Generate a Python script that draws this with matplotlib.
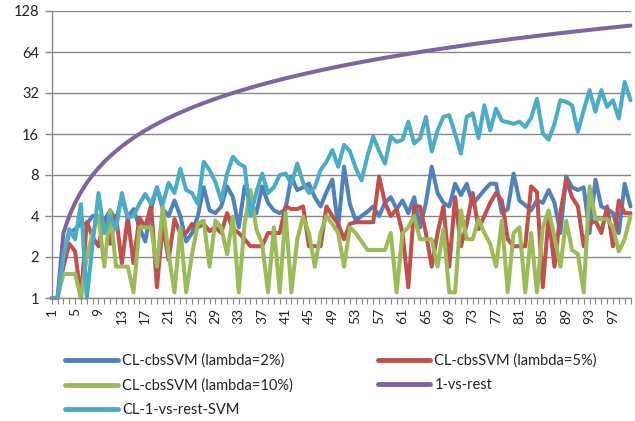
import matplotlib
matplotlib.use("Agg")
import matplotlib.pyplot as plt
from matplotlib.ticker import FixedLocator, NullLocator, NullFormatter

plt.rcParams['font.family'] = ['Lato', 'DejaVu Sans']

categories = list(range(1, 101))

lam2 = [1, 1, 2, 3, 3.2, 3.5, 3.5, 4, 4, 3.7,
        4.4, 3.7, 5.5, 3.9, 4.5, 3.3, 2.6, 4.5, 6.5, 4.5,
        4, 5.2, 4, 2.6, 3, 4, 6.5, 4.4, 4.2, 4.7,
        6.6, 5.5, 3.3, 6.6, 5, 4.2, 6.6, 5, 4.4, 4.2,
        4.5, 7.8, 6.2, 6.5, 6.9, 5.5, 4.7, 6, 7.4, 3.3,
        9.2, 4.9, 3.7, 4, 4.3, 4.7, 4, 5, 5.5, 4.5,
        5.2, 4.2, 5.5, 3.3, 5, 9.2, 5.9, 5, 4.7, 6.9,
        5.7, 6.9, 4.9, 5.5, 6.2, 6.9, 6.9, 4.2, 4.5, 8.2,
        5.2, 4.8, 4.4, 5.2, 5, 6.2, 5, 3, 7.8, 6.5,
        6.2, 6.5, 3, 7.4, 4.7, 4.5, 4.2, 3, 6.9, 4.7]

lam5 = [1, 1, 1.7, 2.5, 2.2, 1, 3.6, 2.8, 2.4, 3.8,
        2.5, 4, 1.8, 3.9, 1.8, 3.9, 3.3, 4.8, 1.2, 3.5,
        1.9, 3.8, 3, 3, 3.5, 3.3, 3.5, 3.1, 3.3, 3,
        4.2, 3.2, 3, 2.7, 2.4, 2.4, 2.4, 3, 3, 3,
        4.7, 4.5, 4.5, 4.7, 2.4, 2.4, 2.4, 4.7, 4, 3.5,
        2.7, 3.5, 3.6, 3.6, 3.6, 3.6, 7.8, 5, 4, 4.5,
        3, 1.2, 4.7, 4.7, 3, 1.7, 3, 4.7, 1.7, 5.5,
        2.4, 3.5, 5.9, 3.2, 4, 5, 5.9, 5.2, 2.7, 2.4,
        2.4, 2.4, 6.6, 6, 1.2, 4, 1.7, 4.2, 7.4, 5.5,
        4.7, 2.4, 3.5, 3.7, 3, 4.7, 2.4, 5.2, 4.2, 4.2]

lam10 = [1, 1, 1.5, 1.5, 1.5, 1, 2, 3, 4, 1.7,
         4.4, 1.7, 1.7, 1.7, 1.1, 3.3, 3.3, 3.3, 1.7, 4.7,
         2.1, 1.1, 3.3, 1.1, 2.1, 3.5, 3.7, 1.7, 3.7, 3.3,
         2.1, 3.95, 1.1, 3.5, 6.2, 3.2, 2.5, 1.1, 3.3, 1.1,
         4.2, 1.1, 2.7, 3.95, 3, 1.7, 3, 4, 3.5, 3,
         1.7, 3.3, 3, 2.6, 2.25, 2.25, 2.25, 2.25, 3, 1.1,
         3, 3.3, 4, 2.7, 2.7, 2.7, 1.7, 3.2, 1.1, 1.1,
         4.4, 2.7, 2.7, 3.8, 3, 2.5, 1.7, 3.7, 1.1, 3,
         3.3, 1.1, 3, 1.1, 3.3, 4.4, 2.8, 1.7, 3.7, 2.25,
         2.1, 1.1, 6.6, 3.8, 3.8, 3.8, 3.3, 2.2, 2.7, 4]

one_vs_rest = [1, 1, 3, 4, 5, 6, 7, 8, 9, 10,
               11, 12, 13, 14, 15, 16, 17, 18, 19, 20,
               21, 22, 23, 24, 25, 26, 27, 28, 29, 30,
               31, 32, 33, 34, 35, 36, 37, 38, 39, 40,
               41, 42, 43, 44, 45, 46, 47, 48, 49, 50,
               51, 52, 53, 54, 55, 56, 57, 58, 59, 60,
               61, 62, 63, 64, 65, 66, 67, 68, 69, 70,
               71, 72, 73, 74, 75, 76, 77, 78, 79, 80,
               81, 82, 83, 84, 85, 86, 87, 88, 89, 90,
               91, 92, 93, 94, 95, 96, 97, 98, 99, 100]

cl_1vr = [1, 1, 2, 3.2, 2.7, 4.9, 1, 2.5, 5.9, 3,
          4, 3.2, 5.9, 3.9, 4, 4.9, 5.8, 4.9, 6.4, 4.9,
          7, 5.9, 8.9, 6.2, 5.9, 4.9, 10, 8.7, 7.1, 5.2,
          8.2, 10.9, 9.7, 9.2, 4, 6, 8.2, 5.9, 6.5, 8,
          8.2, 6.9, 9.7, 7, 5.9, 6.5, 8.7, 10, 12.2, 9.2,
          13.3, 12, 9, 7.3, 11, 15.3, 12, 9.7, 15.3, 14,
          14.5, 19.7, 13.6, 14.9, 21.4, 11.9, 17, 21.4, 22, 16,
          11.5, 21.4, 22.7, 14.9, 26, 17, 24.6, 20, 19.5, 19,
          19.7, 18, 21, 29, 16.2, 14.5, 19, 28.3, 27.6, 26,
          16.6, 24, 33.6, 23.3, 33.6, 25.3, 28.3, 20.8, 38.6, 28.3]

series_names = ["CL-cbsSVM (lambda=2%)", "CL-cbsSVM (lambda=5%)",
                "CL-cbsSVM (lambda=10%)", "1-vs-rest", "CL-1-vs-rest-SVM"]
series_values = [lam2, lam5, lam10, one_vs_rest, cl_1vr]
colors = ["#4F81BD", "#C0504D", "#9BBB59", "#8064A2", "#4BACC6"]

y_ticks = [1, 2, 4, 8, 16, 32, 64, 128]
x_tick_labels = [str(c) for c in categories[::4]]

W, H = 635, 421
fig = plt.figure(figsize=(W / 100, H / 100), dpi=100)
ax = fig.add_axes([51.7 / W, 1 - 298 / H, 578.8 / W, 287 / H])

handles = []
for name, vals, col in zip(series_names, series_values, colors):
    h, = ax.plot(categories, vals, color=col, lw=2.9, solid_joinstyle='round',
                 solid_capstyle='round', label=name, clip_on=False)
    handles.append(h)

ax.set_yscale('log', base=2)
ax.set_ylim(1, 128)
ax.set_xlim(1, 100)

grid_col = '#888888'
ax.yaxis.set_major_locator(FixedLocator(y_ticks))
ax.yaxis.set_minor_locator(NullLocator())
ax.set_yticklabels([str(v) for v in y_ticks])
ax.yaxis.grid(True, color=grid_col, lw=1.0)
ax.set_axisbelow(True)

ax.xaxis.set_major_locator(FixedLocator(categories[::4]))
ax.set_xticklabels(x_tick_labels, rotation=90)
ax.xaxis.set_minor_locator(FixedLocator(categories))
ax.xaxis.set_minor_formatter(NullFormatter())

for s in ['top', 'right']:
    ax.spines[s].set_visible(False)
for s in ['left', 'bottom']:
    ax.spines[s].set_color(grid_col)
    ax.spines[s].set_linewidth(1.0)

ax.tick_params(axis='x', which='major', length=4, width=0.8, color=grid_col, pad=3,
               labelsize=10, labelcolor='#222222')
ax.tick_params(axis='x', which='minor', length=4, width=0.8, color=grid_col, direction='out')
ax.tick_params(axis='y', which='major', length=5, width=1.0, color=grid_col, direction='out',
               labelsize=10.5, labelcolor='#222222', pad=4)

order = [0, 2, 4, 1, 3]
leg = fig.legend([handles[i] for i in order], [series_names[i] for i in order],
                 ncol=2, loc='upper left', bbox_to_anchor=(58 / W, 1 - 346 / H),
                 frameon=False, fontsize=10.5, handlelength=3.6, handletextpad=0.3,
                 columnspacing=5.8, labelspacing=0.73, borderpad=0)
for line in leg.get_lines():
    line.set_linewidth(3.5)
for t in leg.get_texts():
    t.set_color('#222222')

fig.savefig('out.png', dpi=100)
